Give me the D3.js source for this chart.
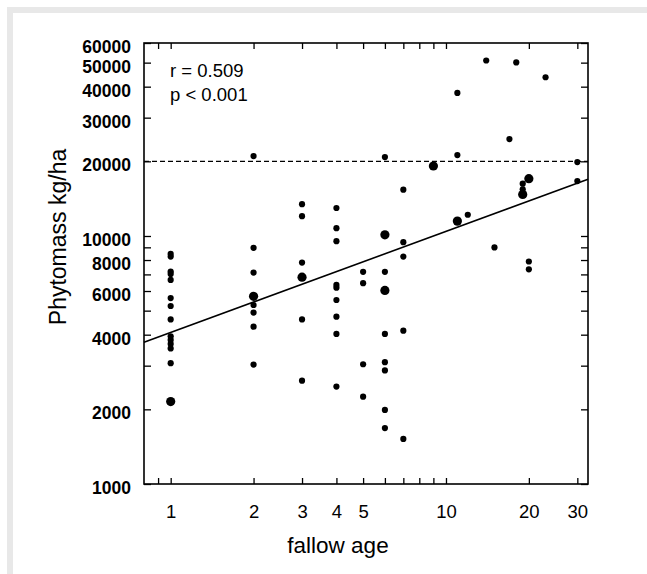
<!DOCTYPE html>
<html>
<head>
<meta charset="utf-8">
<script src="https://cdn.jsdelivr.net/npm/d3@7"></script>
<style>
    body { margin: 0; background: #fff; }
    svg { display: block; font-family: "Liberation Sans", Arial, sans-serif; }
</style>
</head>
<body>
<script>
// fallow age (years) of each plot
let fallowAge = [
    1, 1, 1, 1, 1, 1, 1, 1, 1, 1, 1, 1, 1, 1,
    2, 2, 2, 2, 2, 2, 2, 2,
    3, 3, 3, 3, 3, 3,
    4, 4, 4, 4, 4, 4, 4, 4, 4,
    5, 5, 5, 5,
    6, 6, 6, 6, 6, 6, 6, 6, 6,
    7, 7, 7, 7, 7,
    9,
    11, 11, 11,
    12, 14, 15, 17, 18,
    19, 19, 19,
    20, 20, 20,
    23,
    30, 30
];

// phytomass (kg/ha)
let phytomass = [
    8470, 8260, 7190, 7030, 6650, 5620, 5220, 4610, 3940, 3810, 3670, 3520, 3070, 2150,
    21000, 8960, 7120, 5710, 5270, 4910, 4310, 3030,
    13440, 12020, 7810, 6820, 4610, 2610,
    12970, 10750, 9530, 6350, 6190, 5520, 4730, 4030, 2470,
    7170, 6450, 3040, 2250,
    20800, 10110, 7170, 6030, 4030, 3100, 2870, 1990, 1680,
    15370, 9440, 8260, 4150, 1520,
    19150,
    37760, 21200, 11480,
    12180, 51000, 8990, 24600, 50100,
    16250, 15420, 14710,
    17030, 7890, 7340,
    43660,
    19870, 16650
];

// 1 = larger dot (overlapping observations)
let bigDot = [
    0, 0, 0, 0, 0, 0, 0, 0, 0, 0, 0, 0, 0, 1,
    0, 0, 0, 1, 0, 0, 0, 0,
    0, 0, 0, 1, 0, 0,
    0, 0, 0, 0, 0, 0, 0, 0, 0,
    0, 0, 0, 0,
    0, 1, 0, 1, 0, 0, 0, 0, 0,
    0, 0, 0, 0, 0,
    1,
    0, 0, 1,
    0, 0, 0, 0, 0,
    0, 0, 1,
    1, 0, 0,
    0,
    0, 0
];

let xTicks = [0.9, 1, 2, 3, 4, 5, 6, 7, 8, 9, 10, 20, 30];
let xLabels = [1, 2, 3, 4, 5, 10, 20, 30];
let yTicks = [1000, 2000, 3000, 4000, 5000, 6000, 7000, 8000, 9000, 10000, 20000, 30000, 40000, 50000, 60000];
let yLabels = [1000, 2000, 4000, 6000, 8000, 10000, 20000, 30000, 40000, 50000, 60000];

// log-log regression: y = a * x^b
let fitA = 4080;
let fitB = 0.408;
let threshold = 20000;
let statText = ["r = 0.509", "p < 0.001"];

let opts = {
    width: 647,
    height: 574,
    left: 144,
    right: 588,
    top: 43,
    bottom: 484
};

let svg = d3.select("body")
            .append("svg")
            .attr("width", opts.width)
            .attr("height", opts.height);

// light grey frame on top and left
svg.append("rect").attr("x", 7).attr("y", 7).attr("width", opts.width - 7).attr("height", 6).attr("fill", "#e8e8e8");
svg.append("rect").attr("x", 7).attr("y", 7).attr("width", 6).attr("height", opts.height - 7).attr("fill", "#e8e8e8");

let x = d3.scaleLog().domain([0.8, 32.8]).range([opts.left, opts.right]);
let y = d3.scaleLog().domain([1000, 60000]).range([opts.bottom, opts.top]);

let plotW = opts.right - opts.left;
let plotH = opts.bottom - opts.top;

// Axes, ticks pointing into the plot
function styleAxis(g, size) {
    g.select(".domain").remove();
    g.selectAll(".tick line").attr("stroke", "#000").attr("stroke-width", 1.3);
    g.selectAll("text").attr("fill", "#000").style("font-size", size + "px");
}

svg.append("g")
   .attr("transform", `translate(0,${opts.bottom})`)
   .call(d3.axisBottom(x).tickValues(xTicks).tickSize(-6).tickPadding(21)
         .tickFormat(d => xLabels.includes(d) ? d : ""))
   .call(g => styleAxis(g, 18.5));

svg.append("g")
   .attr("transform", `translate(0,${opts.top})`)
   .call(d3.axisTop(x).tickValues(xTicks).tickSize(-6).tickFormat(""))
   .call(g => styleAxis(g, 18));

svg.append("g")
   .attr("transform", `translate(${opts.left},0)`)
   .call(d3.axisLeft(y).tickValues(yTicks).tickSize(-7).tickPadding(13)
         .tickFormat(d => yLabels.includes(d) ? d : ""))
   .call(g => styleAxis(g, 17.5))
   .call(g => g.selectAll("text").attr("dy", "0.55em").style("font-weight", "bold"));

svg.append("g")
   .attr("transform", `translate(${opts.right},0)`)
   .call(d3.axisRight(y).tickValues(yTicks).tickSize(-7).tickFormat(""))
   .call(g => styleAxis(g, 17));

// plot frame
svg.append("rect")
   .attr("x", opts.left).attr("y", opts.top)
   .attr("width", plotW).attr("height", plotH)
   .attr("fill", "none").attr("stroke", "#000").attr("stroke-width", 1.6);

// dashed 20000 line
svg.append("line")
   .attr("x1", opts.left).attr("x2", opts.right)
   .attr("y1", y(threshold)).attr("y2", y(threshold))
   .attr("stroke", "#000").attr("stroke-width", 1.3)
   .attr("stroke-dasharray", "5,3");

// regression line
let fitX = x.domain();
svg.append("path")
   .datum(fitX)
   .attr("d", d3.line().x(d => x(d)).y(d => y(fitA * Math.pow(d, fitB))))
   .attr("fill", "none").attr("stroke", "#000").attr("stroke-width", 1.6);

// dots
svg.append("g")
   .selectAll("circle")
   .data(fallowAge)
   .enter()
   .append("circle")
   .attr("cx", d => x(d))
   .attr("cy", (d, i) => y(phytomass[i]))
   .attr("r", (d, i) => bigDot[i] ? 4.6 : 3.1)
   .attr("fill", "#000");

// stats
svg.append("g")
   .selectAll("text")
   .data(statText)
   .enter()
   .append("text")
   .attr("x", 170)
   .attr("y", (d, i) => 77 + i * 24)
   .style("font-size", "18.5px")
   .attr("fill", "#000")
   .text(d => d);

// axis titles
svg.append("text")
   .attr("x", 338).attr("y", 553)
   .attr("text-anchor", "middle")
   .style("font-size", "22.5px")
   .attr("fill", "#000")
   .text("fallow age");

svg.append("text")
   .attr("transform", "translate(66,237) rotate(-90)")
   .attr("text-anchor", "middle")
   .style("font-size", "23px")
   .attr("fill", "#000")
   .text("Phytomass kg/ha");
</script>
</body>
</html>
